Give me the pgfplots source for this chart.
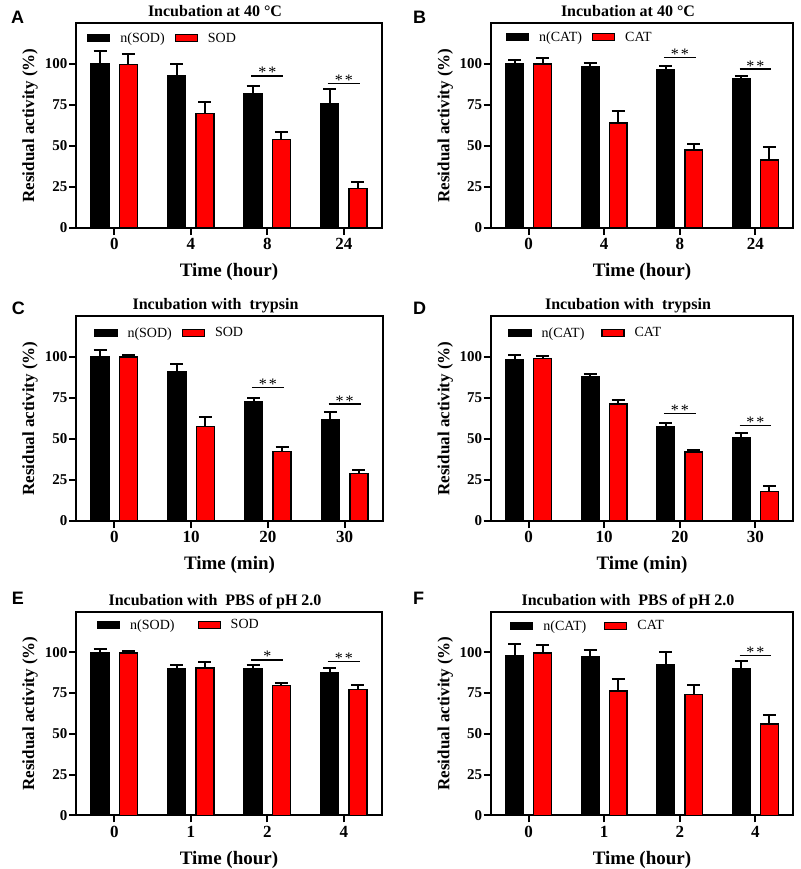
\documentclass[border=0pt]{standalone}
\usepackage{pgfplots}
\pgfplotsset{compat=1.18}
\usepackage{pgfplotstable}
\usepackage{fontspec}
\setmainfont{Liberation Serif}
\newfontfamily\lsans{Liberation Sans}

% columns: x, black mean, black err, red mean, red err
\pgfplotstableread{
x b be r re
0 100.0 8.2 99.6 6.4
1 92.8 7.2 69.9 6.7
2 82.0 4.3 53.9 4.9
3 76.0 8.8 24.2 4.1
}\dataA
\pgfplotstableread{
x b be r re
0 100.4 2.3 100.0 3.9
1 98.4 2.2 64.1 7.4
2 96.3 2.5 47.7 3.3
3 91.2 1.6 41.4 7.8
}\dataB
\pgfplotstableread{
x b be r re
0 100.2 4.1 100.0 1.4
1 91.3 4.6 57.5 5.9
2 72.6 2.2 42.3 2.8
3 62.0 4.3 29.1 2.0
}\dataC
\pgfplotstableread{
x b be r re
0 98.6 2.4 99.2 1.4
1 88.0 1.8 71.3 2.7
2 57.5 2.3 42.1 1.2
3 51.0 2.9 18.1 3.2
}\dataD
\pgfplotstableread{
x b be r re
0 100.0 1.8 99.8 1.2
1 89.9 2.2 90.5 3.8
2 89.9 2.2 79.7 1.6
3 87.6 2.7 77.1 2.6
}\dataE
\pgfplotstableread{
x b be r re
0 98.2 6.8 99.8 4.7
1 97.6 3.8 76.3 7.1
2 92.7 7.3 74.2 5.9
3 90.1 4.4 56.2 5.5
}\dataF

\tikzset{
  star/.style={anchor=base, inner sep=0pt, yshift=-2pt, font=\fontsize{16}{16}\selectfont},
  sig/.style={line width=1.5pt},
}
\pgfplotsset{
  panel/.style={
    scale only axis, height=205pt,
    anchor=north west,
    xmin=-0.5, xmax=3.5, ymin=0, ymax=125,
    ybar, bar width=0.235,
    xtick={0,1,2,3}, ytick={0,25,50,75,100},
    tick align=outside, xtick pos=bottom, ytick pos=left,
    major tick length=7pt,
    major tick style={line width=2pt, black},
    axis line style={line width=2pt},
    clip=false,
    /pgf/number format/assume math mode=true,
    xticklabel style={font=\fontsize{17}{17}\selectfont\bfseries},
    yticklabel style={font=\fontsize{15}{15}\selectfont\bfseries, inner sep=0pt, xshift=-1.5pt},
    ylabel={Residual activity (\%)},
    ylabel style={font=\fontsize{17}{17}\selectfont\bfseries, at={(axis description cs:-0.15,0.5)}, anchor=center},
    xlabel style={font=\fontsize{19}{19}\selectfont\bfseries, at={(axis description cs:0.5,0)}, anchor=base, yshift=-48.7pt},
    title style={font=\fontsize{16}{16}\selectfont\bfseries, at={(axis description cs:0.5,1)}, anchor=base, yshift=0.5pt, xshift=-14pt},
    error bars/y dir=plus, error bars/y explicit,
    error bars/error bar style={line width=2pt, black},
    error bars/error mark options={rotate=90, line width=2pt, mark size=6.5pt, black},
  },
  leg/.style n args={3}{legend style={at={(axis description cs:#1,#2)}, anchor=west, draw=none, fill=none, inner sep=0pt,
      font=\fontsize{14}{14}\selectfont, legend columns=2,
      /tikz/every odd column/.append style={column sep=8pt},
      /tikz/every even column/.append style={column sep=#3}}},
  blk/.style={fill=black, draw=black, line width=1.5pt, bar shift=-0.185,
      legend image code/.code={\draw[fill=black, draw=black, line width=1.2pt] (0pt,-3.5pt) rectangle (22pt,3.5pt);}},
  rd/.style={fill=red, draw=black, line width=1.5pt, bar shift=0.185,
      legend image code/.code={\draw[fill=red, draw=black, line width=1.2pt] (0pt,-3.5pt) rectangle (22pt,3.5pt);}},
}
\newcommand{\sigmark}[3]{% x, y, text
  \draw[sig] (axis cs:#1-0.21,#2) -- (axis cs:#1+0.21,#2);
  \node[star] at (axis cs:#1,#2) {#3};}
\newcommand{\twostar}{*\hspace{2pt}*}

\begin{document}
\begin{tikzpicture}
\path[use as bounding box] (0,0) rectangle (800pt,-869pt);

% A
\begin{axis}[panel, at={(76pt,-23pt)}, width=306pt,
  title={Incubation at 40 °C}, xlabel={Time (hour)}, xticklabels={0,4,8,24},
  leg={0.036}{0.925}{8pt}]
\addplot[blk] table[x=x,y=b,y error=be] {\dataA};
\addplot[rd] table[x=x,y=r,y error=re] {\dataA};
\legend{n(SOD),SOD}
\sigmark{2}{92.8}{\twostar}
\sigmark{3}{88.1}{\twostar}
\end{axis}

% B
\begin{axis}[panel, at={(490.7pt,-23pt)}, width=302.6pt,
  title={Incubation at 40 °C}, xlabel={Time (hour)}, xticklabels={0,4,8,24},
  leg={0.05}{0.93}{8pt}]
\addplot[blk] table[x=x,y=b,y error=be] {\dataB};
\addplot[rd] table[x=x,y=r,y error=re] {\dataB};
\legend{n(CAT),CAT}
\sigmark{2}{104.1}{\twostar}
\sigmark{3}{96.9}{\twostar}
\end{axis}

% C
\begin{axis}[panel, at={(76pt,-316pt)}, width=307pt,
  title={Incubation with~~trypsin}, xlabel={Time (min)}, xticklabels={0,10,20,30},
  leg={0.059}{0.917}{8pt}]
\addplot[blk] table[x=x,y=b,y error=be] {\dataC};
\addplot[rd] table[x=x,y=r,y error=re] {\dataC};
\legend{n(SOD),SOD}
\sigmark{2}{81.3}{\twostar}
\sigmark{3}{71.3}{\twostar}
\end{axis}

% D
\begin{axis}[panel, at={(490.7pt,-316pt)}, width=302.6pt,
  title={Incubation with~~trypsin}, xlabel={Time (min)}, xticklabels={0,10,20,30},
  leg={0.058}{0.917}{15pt}]
\addplot[blk] table[x=x,y=b,y error=be] {\dataD};
\addplot[rd] table[x=x,y=r,y error=re] {\dataD};
\legend{n(CAT),CAT}
\sigmark{2}{65.7}{\twostar}
\sigmark{3}{58.3}{\twostar}
\end{axis}

% E
\begin{axis}[panel, at={(76pt,-611.7pt)}, width=306pt, height=203.6pt,
  title={Incubation with~~PBS of pH 2.0}, xlabel={Time (hour)}, xticklabels={0,1,2,4},
  leg={0.068}{0.935}{21pt}]
\addplot[blk] table[x=x,y=b,y error=be] {\dataE};
\addplot[rd] table[x=x,y=r,y error=re] {\dataE};
\legend{n(SOD),SOD}
\sigmark{2}{95.5}{*}
\sigmark{3}{94.5}{\twostar}
\end{axis}

% F
\begin{axis}[panel, at={(490.7pt,-611.7pt)}, width=302.6pt, height=203.6pt,
  title={Incubation with~~PBS of pH 2.0}, xlabel={Time (hour)}, xticklabels={0,1,2,4},
  leg={0.064}{0.93}{16pt}]
\addplot[blk] table[x=x,y=b,y error=be] {\dataF};
\addplot[rd] table[x=x,y=r,y error=re] {\dataF};
\legend{n(CAT),CAT}
\sigmark{3}{98.2}{\twostar}
\end{axis}

% panel letters
\begin{scope}[every node/.style={anchor=base west, inner sep=0pt, font=\lsans\fontsize{18}{18}\selectfont\bfseries}]
\node at (11pt,-24pt) {A};
\node at (413pt,-24pt) {B};
\node at (11.7pt,-314pt) {C};
\node at (413pt,-314pt) {D};
\node at (11.7pt,-604pt) {E};
\node at (413pt,-604pt) {F};
\end{scope}
\end{tikzpicture}
\end{document}
